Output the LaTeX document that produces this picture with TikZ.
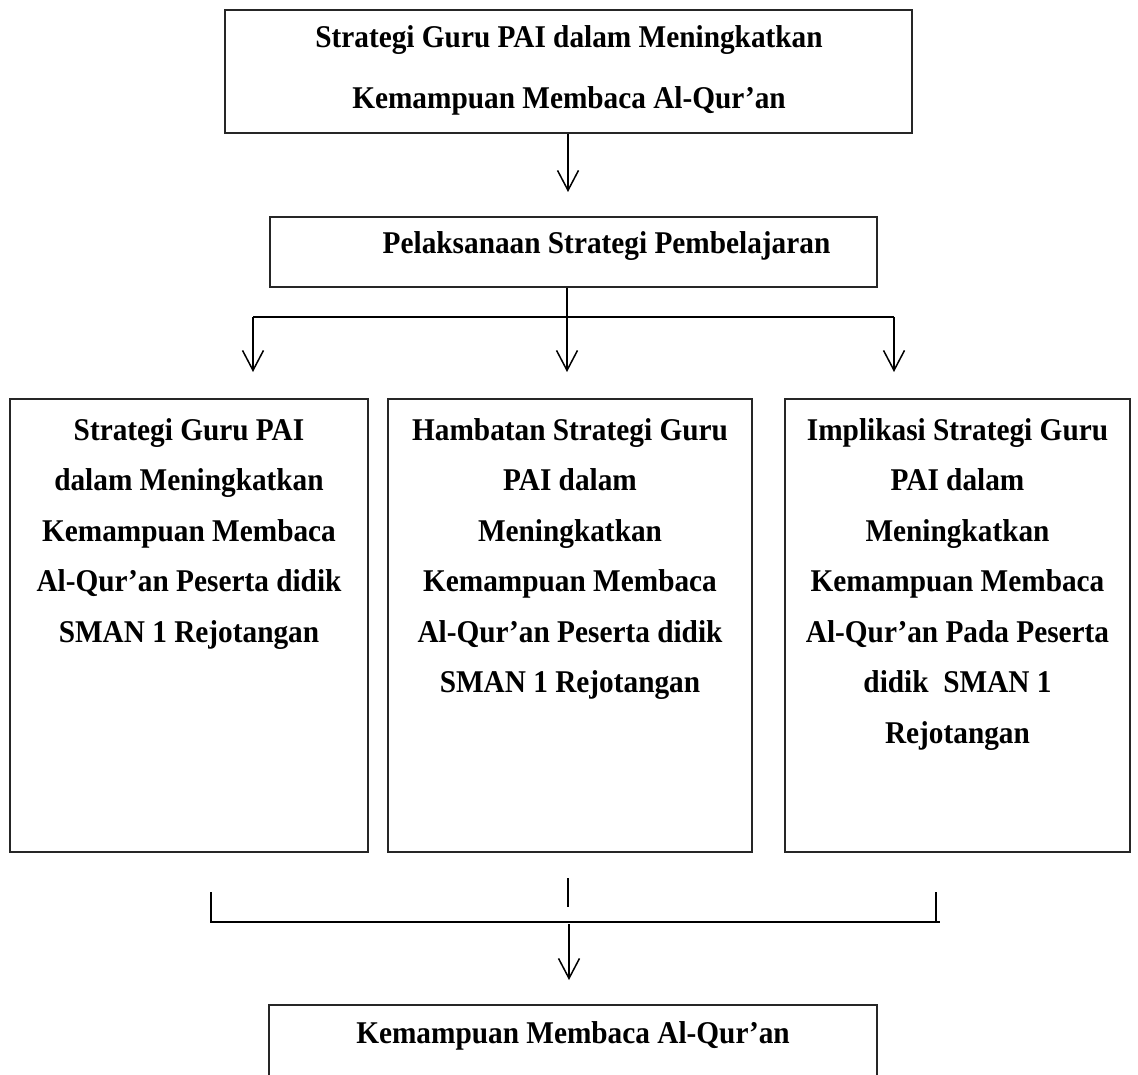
\documentclass[tikz,border=0pt]{standalone}
\usepackage{fontspec}
\usepackage{graphicx}
\setmainfont{Liberation Serif}
\usetikzlibrary{arrows.meta}
\newcommand\vtext[2]{\scalebox{1}[1.08]{\fontsize{29.3pt}{#1}\selectfont\begin{tabular}[t]{@{}c@{}}#2\end{tabular}}}
\begin{document}
\begin{tikzpicture}[x=1pt,y=-1pt,
  box/.style={draw=black!85, line width=1.4pt, inner sep=0pt},
  lbl/.style={font=\bfseries, align=center, inner sep=0pt, anchor=base},
  conn/.style={draw=black, line width=1.5pt},
  arr/.style={conn, -{Straight Barb[length=20pt,width=21pt,line width=1.5pt]}}]
\useasboundingbox (0,0) rectangle (1138,1075);
\clip (0,0) rectangle (1138,1075);
% boxes
\node[box, minimum width=687pt, minimum height=123pt] (top) at (568.5,71.5) {};
\node[box, minimum width=607pt, minimum height=70pt] (sec) at (573.5,252) {};
\node[box, minimum width=358pt, minimum height=453pt] (bl) at (189,625.5) {};
\node[box, minimum width=364pt, minimum height=453pt] (bm) at (570,625.5) {};
\node[box, minimum width=345pt, minimum height=453pt] (br) at (957.5,625.5) {};
\node[box, minimum width=608pt, minimum height=160pt] (bot) at (573,1085) {};
% texts
\node[lbl] (topT) at (569,48) {\vtext{55.6pt}{Strategi Guru PAI dalam Meningkatkan\\Kemampuan Membaca Al-Qur’an}};
\node[lbl] (secT) at (606.5,254) {\vtext{46.8pt}{Pelaksanaan Strategi Pembelajaran}};
\node[lbl] (blT) at (189,440) {\vtext{46.8pt}{Strategi Guru PAI\\dalam Meningkatkan\\Kemampuan Membaca\\Al-Qur’an Peserta didik\\SMAN 1 Rejotangan}};
\node[lbl] (bmT) at (570,440) {\vtext{46.8pt}{Hambatan Strategi Guru\\PAI dalam\\Meningkatkan\\Kemampuan Membaca\\Al-Qur’an Peserta didik\\SMAN 1 Rejotangan}};
\node[lbl] (brT) at (957.5,440) {\vtext{46.8pt}{Implikasi Strategi Guru\\PAI dalam\\Meningkatkan\\Kemampuan Membaca\\Al-Qur’an Pada Peserta\\didik\ \ SMAN 1\\Rejotangan}};
\node[lbl] (botT) at (573,1043) {\vtext{46.8pt}{Kemampuan Membaca Al-Qur’an}};
% connector coordinates
\coordinate (a1) at (568,192);
\coordinate (j0) at (567,317);
\coordinate (jl) at (253,317);
\coordinate (jr) at (894,317);
\coordinate (tl) at (253,372);
\coordinate (tm) at (567,372);
\coordinate (tr) at (894,372);
\coordinate (m1) at (568,878);
\coordinate (m2) at (568,907);
\coordinate (l1) at (211,892);
\coordinate (l2) at (211,922);
\coordinate (r1) at (936,892);
\coordinate (r2) at (936,922);
\coordinate (re) at (940,922);
\coordinate (d0) at (569,924);
\coordinate (d1) at (569,980);
% connectors
\draw[arr] (top.south -| a1) -- (a1);
\draw[conn] (sec.south -| j0) -- (j0);
\draw[conn] (jl) -- (jr);
\draw[arr] (jl) -- (tl);
\draw[arr] (j0) -- (tm);
\draw[arr] (jr) -- (tr);
\draw[conn, line width=1.2pt] (m1) -- (m2);
\draw[conn, line width=1.2pt] (l1) -- (l2) -- (re);
\draw[conn, line width=1.2pt] (r1) -- (r2);
\draw[arr] (d0) -- (d1);
\end{tikzpicture}
\end{document}
